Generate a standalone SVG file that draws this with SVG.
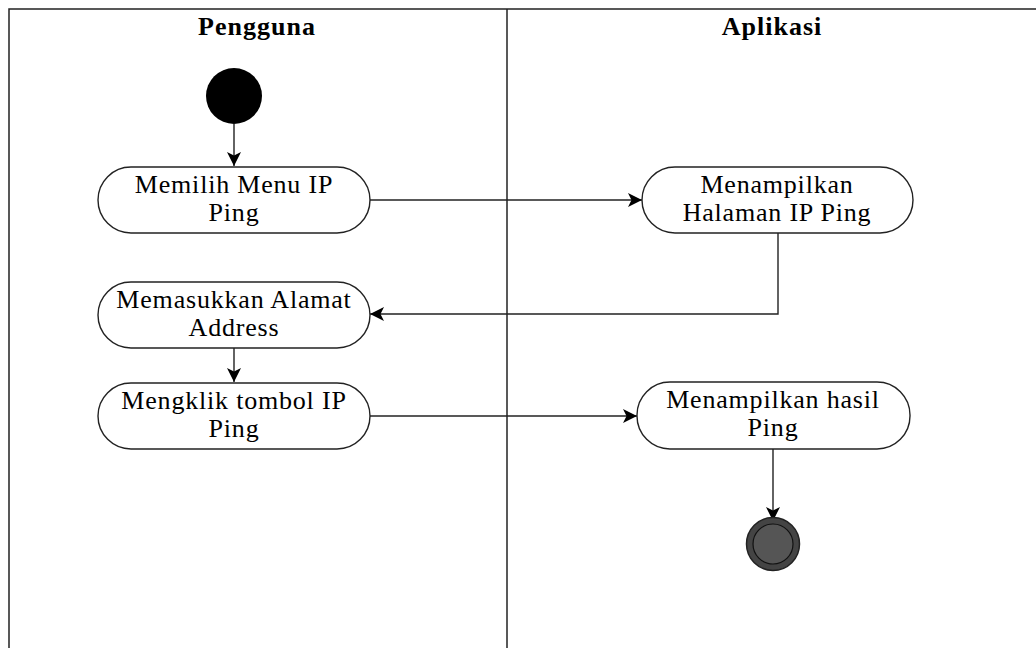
<svg xmlns="http://www.w3.org/2000/svg" width="1036" height="648" viewBox="0 0 1036 648">
  <defs>
    <marker id="arrow" viewBox="0 0 14 14" refX="14" refY="7" markerWidth="14" markerHeight="14" markerUnits="userSpaceOnUse" orient="auto">
      <path d="M0,0 L14,7 L0,14 L3.5,7 Z" fill="#000"/>
    </marker>
    <style>
      .lane { fill: none; stroke: #222; stroke-width: 1.5; }
      .title { font-family: "Liberation Serif", "Times New Roman", serif; font-size: 26px; font-weight: bold; fill: #000; text-anchor: middle; letter-spacing: 1px; }
      .act rect { fill: #fff; stroke: #222; stroke-width: 1.4; }
      .act text { font-family: "Liberation Serif", "Times New Roman", serif; font-size: 26px; fill: #000; text-anchor: middle; letter-spacing: 0.8px; }
      .edge { fill: none; stroke: #222; stroke-width: 1.4; marker-end: url(#arrow); }
    </style>
  </defs>

  <rect width="1036" height="648" fill="#fff"/>

  <!-- swimlane frame -->
  <g id="lanes">
    <path class="lane" d="M9,648 V9 H1036"/>
    <line class="lane" x1="507" y1="9" x2="507" y2="648"/>
    <text class="title" x="257" y="35">Pengguna</text>
    <text class="title" x="772" y="35">Aplikasi</text>
  </g>

  <!-- connectors -->
  <g id="connectors">
    <line class="edge" x1="234" y1="124" x2="234" y2="166"/>
    <line class="edge" x1="370" y1="200" x2="642" y2="200"/>
    <polyline class="edge" points="778,233 778,314 370,314"/>
    <line class="edge" x1="234" y1="348" x2="234" y2="382"/>
    <line class="edge" x1="370" y1="416" x2="637" y2="416"/>
    <line class="edge" x1="773" y1="449" x2="773" y2="521"/>
  </g>

  <!-- start node -->
  <g id="start">
    <circle cx="234" cy="96" r="28" fill="#000"/>
  </g>

  <g id="pilih-menu" class="act">
    <rect x="98" y="167" width="272" height="66" rx="33" ry="33"/>
    <text x="234" y="193">Memilih Menu IP</text>
    <text x="234" y="221">Ping</text>
  </g>

  <g id="tampil-halaman" class="act">
    <rect x="642" y="167" width="271" height="66" rx="33" ry="33"/>
    <text x="777" y="193">Menampilkan</text>
    <text x="777" y="221">Halaman IP Ping</text>
  </g>

  <g id="masukkan-alamat" class="act">
    <rect x="98" y="282" width="272" height="66" rx="33" ry="33"/>
    <text x="234" y="308">Memasukkan Alamat</text>
    <text x="234" y="336">Address</text>
  </g>

  <g id="klik-tombol" class="act">
    <rect x="98" y="383" width="272" height="66" rx="33" ry="33"/>
    <text x="234" y="409">Mengklik tombol IP</text>
    <text x="234" y="437">Ping</text>
  </g>

  <g id="tampil-hasil" class="act">
    <rect x="637" y="382" width="273" height="67" rx="33" ry="33"/>
    <text x="773" y="408">Menampilkan hasil</text>
    <text x="773" y="436">Ping</text>
  </g>

  <!-- end node -->
  <g id="end">
    <circle cx="773" cy="544" r="26.5" fill="#444" stroke="#222" stroke-width="1.5"/>
    <circle cx="773" cy="544" r="20" fill="#555" stroke="#111" stroke-width="1.2"/>
  </g>
</svg>
